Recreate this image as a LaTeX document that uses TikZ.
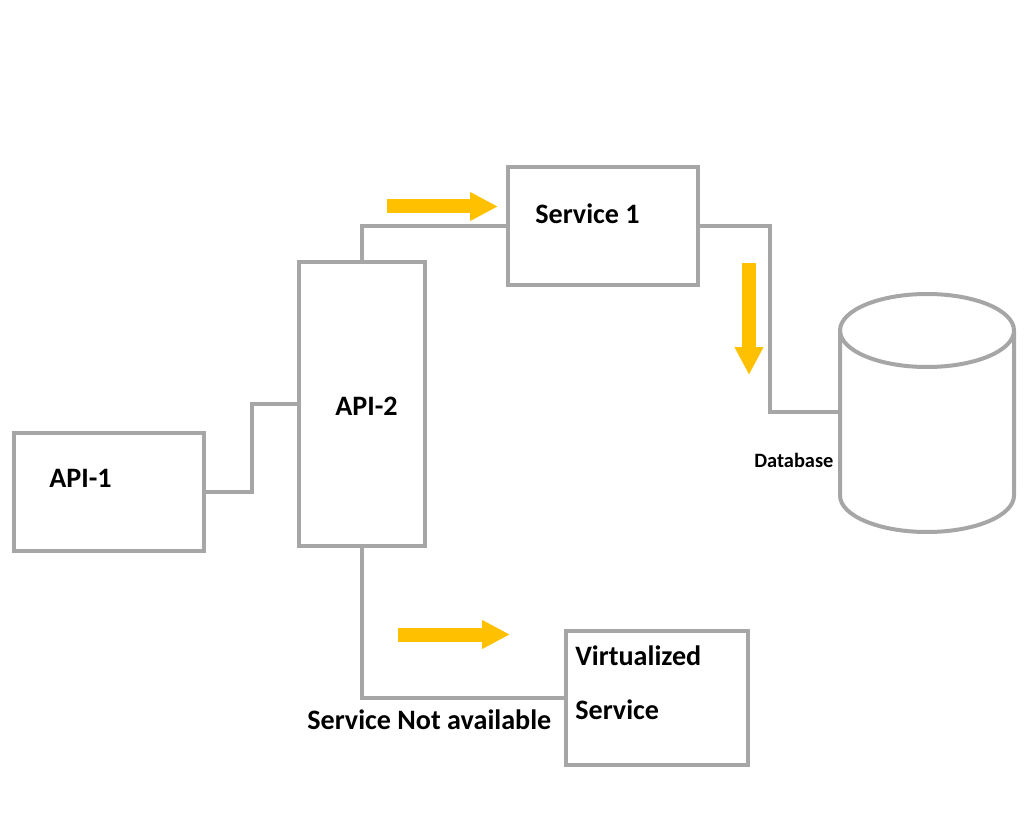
\documentclass[tikz,border=0pt]{standalone}
\usepackage{fontspec}
\setmainfont{Carlito}
\usetikzlibrary{arrows.meta}
\definecolor{linegray}{HTML}{A6A6A6}
\definecolor{flowyellow}{HTML}{FFC000}

\begin{document}
\begin{tikzpicture}[x=0.02cm, y=0.02cm,
    box/.style={draw=linegray, line width=0.08cm, fill=white, rectangle},
    wire/.style={draw=linegray, line width=0.08cm},
    flow/.style={draw=flowyellow, line width=0.28cm, -{Triangle[length=0.56cm, width=0.54cm]}},
    lbl/.style={anchor=base west, inner sep=0pt, font=\fontsize{16}{19}\selectfont\bfseries}]
    \useasboundingbox (0,0) rectangle (1024,829);
    % boxes
    \node[box, minimum width=3.8cm, minimum height=2.36cm] (api1) at (109,337) {};
    \node[box, minimum width=2.54cm, minimum height=5.68cm] (api2) at (362,425) {};
    \node[box, minimum width=3.8cm, minimum height=2.36cm] (svc1) at (603,603) {};
    \node[box, minimum width=3.66cm, minimum height=2.7cm] (virt) at (657,131) {};
    % database
    \draw[wire, fill=white] (840,498.5) -- (840,333.5)
        arc[start angle=180, end angle=360, x radius=87, y radius=36.5] -- (1014,498.5);
    \draw[wire] (927,498.5) ellipse [x radius=87, y radius=36.5];
    \coordinate (dbin) at (840,417);
    % connectors
    \draw[wire] (api1.east) -- ++(46,0) |- (api2.west);
    \draw[wire] (api2.north) |- (svc1.west);
    \draw[wire] (svc1.east) -- ++(70,0) |- (dbin);
    \draw[wire] (api2.south) |- (virt.west);
    % flow arrows
    \draw[flow] (387,622.5) -- (498,622.5);
    \draw[flow] (749,566) -- (749,454);
    \draw[flow] (398,194.5) -- (510,194.5);
    % labels
    \node[lbl] (tapi1) at (49,341) {API-1};
    \node[lbl] (tapi2) at (335,413) {API-2};
    \node[lbl] (tsvc1) at (535,605) {Service 1};
    \node[lbl] (tvirt) at (575,164) {Virtualized};
    \node[lbl] (tvirtb) at (575,110) {Service};
    \node[lbl] (tna) at (307,100) {Service Not available};
    \node[lbl, font=\fontsize{11.6}{14}\selectfont\bfseries] (tdb) at (754,361) {Database};
\end{tikzpicture}
\end{document}
